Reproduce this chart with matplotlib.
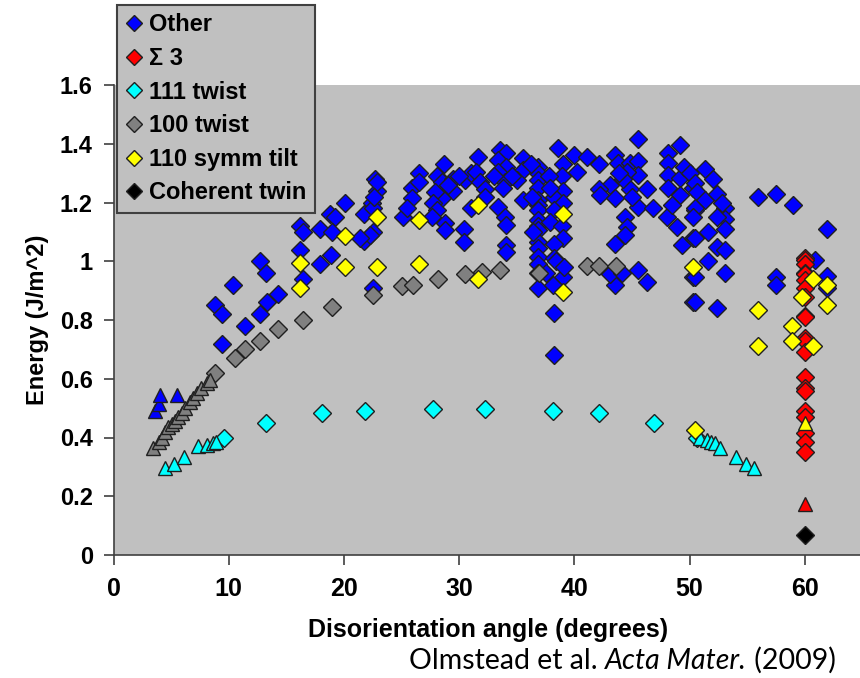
import matplotlib.pyplot as plt
from matplotlib.lines import Line2D

# ── data (angle in degrees, energy in J/m^2) ─────────────────────────────────
other_x = [8.8, 9.4, 9.4, 10.4, 11.4, 12.7, 13.2, 12.7, 13.3, 14.3, 16.2, 16.4, 16.2, 16.4,
           17.9, 17.9, 18.8, 19.2, 19.0, 18.9, 20.1, 21.7, 21.7, 22.5, 22.7, 22.9, 22.4, 22.5,
           22.5, 22.9, 22.6, 22.3, 21.4,
           26.5, 25.9, 25.9, 25.1, 26.5, 25.5,
           28.7, 28.1, 28.5, 29.5, 29.5, 28.5, 27.9, 27.7, 28.1, 27.6, 28.8, 28.8, 30.4, 30.4,
           30.5, 31.0, 31.6, 31.5, 31.8, 32.2, 32.2, 31.0, 29.0, 30.0,
           33.5, 34.1, 33.4, 34.1, 33.4, 34.0, 33.8, 33.4, 34.0, 34.1, 34.1, 34.1, 35.5, 35.5,
           35.0, 35.5, 33.0, 34.6,
           36.8, 36.8, 36.8, 36.8, 36.8, 36.8, 36.8, 36.8, 36.8, 36.8, 36.8, 36.8, 36.8, 36.8,
           36.8, 36.8, 36.2, 36.3, 36.4,
           38.6, 39.0, 38.9, 39.0, 38.2, 39.0, 38.2, 37.9, 38.9, 39.0, 38.2, 38.2, 39.0, 38.1,
           38.2, 38.2, 37.8, 37.9, 38.4, 39.1, 37.5,
           40.0, 40.2, 41.1, 42.1,
           43.5, 43.8, 44.8, 45.5, 45.5, 44.6, 43.1, 42.1, 42.2, 43.5, 44.8, 46.3, 45.5, 46.8,
           44.4, 44.6, 44.4, 43.5, 45.5, 46.3, 43.5, 43.1, 44.1, 45.5, 44.2, 45.0, 43.9,
           48.1, 49.2, 48.1, 48.1, 49.2, 48.1, 49.2, 48.0, 48.9, 49.3, 50.3, 50.5, 50.3, 50.3,
           50.3, 48.5, 49.5, 50.0,
           51.3, 50.5, 50.6, 51.3, 50.5, 50.3, 52.4, 53.1, 53.1, 53.1, 52.4, 51.6, 50.5, 52.4,
           51.6, 53.1, 53.1, 50.5, 50.5, 52.4, 52.0, 52.8,
           55.9, 57.5, 59.0, 61.9, 57.5, 57.5, 60.9, 61.9, 61.9]
other_y = [0.85, 0.82, 0.72, 0.92, 0.78, 1.00, 0.96, 0.82, 0.86, 0.89, 1.12, 1.10, 1.04, 0.94,
           1.11, 0.99, 1.16, 1.15, 1.10, 1.02, 1.20, 1.16, 1.07, 1.10, 1.28, 1.24, 1.20, 1.18,
           0.91, 1.27, 1.22, 1.09, 1.08,
           1.30, 1.25, 1.215, 1.15, 1.27, 1.18,
           1.33, 1.29, 1.27, 1.28, 1.24, 1.215, 1.235, 1.20, 1.175, 1.15, 1.13, 1.105, 1.11, 1.065,
           1.275, 1.30, 1.355, 1.305, 1.27, 1.245, 1.22, 1.18, 1.26, 1.29,
           1.38, 1.37, 1.345, 1.32, 1.305, 1.27, 1.25, 1.185, 1.15, 1.125, 1.055, 1.03, 1.35, 1.31,
           1.275, 1.21, 1.29, 1.29,
           1.32, 1.30, 1.275, 1.25, 1.21, 1.19, 1.175, 1.14, 1.12, 1.105, 1.065, 1.045, 1.015, 0.99,
           0.96, 0.91, 1.33, 1.22, 1.10,
           1.385, 1.33, 1.29, 1.24, 1.22, 1.20, 1.175, 1.135, 1.12, 1.08, 1.06, 1.01, 0.945, 0.92,
           0.825, 0.68, 1.29, 1.25, 1.00, 0.98, 0.96,
           1.36, 1.305, 1.355, 1.33,
           1.36, 1.335, 1.335, 1.34, 1.295, 1.305, 1.26, 1.245, 1.225, 1.215, 1.245, 1.245, 1.185, 1.18,
           1.15, 1.115, 1.09, 1.06, 0.97, 0.93, 0.92, 0.955, 0.96, 1.415, 1.28, 1.22, 1.30,
           1.37, 1.395, 1.335, 1.295, 1.285, 1.25, 1.225, 1.15, 1.115, 1.055, 1.25, 1.175, 1.08, 0.945,
           0.86, 1.19, 1.32, 1.30,
           1.315, 1.265, 1.235, 1.21, 1.18, 1.15, 1.23, 1.18, 1.145, 1.11, 1.15, 1.10, 1.08, 1.05,
           1.00, 1.04, 0.96, 0.945, 0.86, 0.84, 1.28, 1.20,
           1.22, 1.23, 1.19, 1.11, 0.945, 0.92, 1.005, 0.95, 0.91]
other_tri_x = [3.6, 3.9, 4.0, 5.5]
other_tri_y = [0.49, 0.515, 0.545, 0.545]

sigma3_x = [60.0] * 21
sigma3_y = [1.01, 1.005, 0.99, 0.96, 0.955, 0.935, 0.91, 0.88, 0.815, 0.81, 0.74, 0.73,
            0.69, 0.605, 0.57, 0.56, 0.49, 0.47, 0.415, 0.385, 0.35]
sigma3_tri_x = [60.0]
sigma3_tri_y = [0.175]

twist111_x = [9.6, 13.2, 18.1, 21.8, 27.7, 32.2, 38.1, 42.1, 46.9, 50.6]
twist111_y = [0.40, 0.45, 0.485, 0.49, 0.497, 0.497, 0.49, 0.483, 0.45, 0.40]
twist111_tri_x = [4.5, 5.2, 6.1, 7.3, 8.1, 8.6, 8.9,
                  50.9, 51.5, 51.9, 52.2, 52.6, 54.0, 54.9, 55.6]
twist111_tri_y = [0.295, 0.31, 0.335, 0.37, 0.375, 0.38, 0.385,
                  0.40, 0.39, 0.385, 0.38, 0.365, 0.335, 0.31, 0.295]

twist100_x = [8.8, 10.5, 11.4, 12.7, 14.3, 16.4, 19.0, 22.5, 25.0, 26.0, 28.2, 30.5,
              32.0, 33.5, 36.9, 41.1, 42.1, 43.6]
twist100_y = [0.62, 0.67, 0.70, 0.73, 0.77, 0.80, 0.845, 0.885, 0.915, 0.92, 0.94, 0.955,
              0.965, 0.97, 0.96, 0.985, 0.985, 0.985]
twist100_tri_x = [3.4, 3.9, 4.2, 4.5, 4.7, 5.1, 5.3, 5.6, 5.9, 6.2, 6.6, 6.9, 7.2, 7.6, 8.1, 8.4]
twist100_tri_y = [0.365, 0.385, 0.40, 0.42, 0.435, 0.445, 0.455, 0.47, 0.485, 0.50, 0.52,
                  0.535, 0.55, 0.57, 0.585, 0.595]

tilt110_x = [16.2, 16.2, 20.1, 20.1, 22.9, 22.9, 26.5, 26.5, 31.6, 31.6, 39.0, 39.0, 50.3,
             50.5, 55.9, 55.9, 60.7, 61.9, 59.8, 61.9, 58.9, 58.9, 60.7]
tilt110_y = [0.995, 0.91, 1.085, 0.98, 1.15, 0.98, 1.14, 0.99, 1.19, 0.94, 1.16, 0.895, 0.98,
             0.425, 0.835, 0.71, 0.94, 0.92, 0.88, 0.85, 0.78, 0.73, 0.71]
tilt110_tri_x = [60.0]
tilt110_tri_y = [0.45]

twin_x = [60.0]
twin_y = [0.068]

LABELS = ["Other", "Σ 3", "111 twist", "100 twist", "110 symm tilt", "Coherent twin"]
COLORS = ["#0000ff", "#ff0000", "#00ffff", "#808080", "#ffff00", "#000000"]
EDGE = "#202020"
BG = "#c0c0c0"

# ── figure ───────────────────────────────────────────────────────────────────
fig = plt.figure(figsize=(8.6, 6.78), dpi=100)
ax = fig.add_axes([113.6 / 860, 123 / 678, 748.8 / 860, 470 / 678])
ax.set_facecolor(BG)

series = [
    (other_x, other_y, other_tri_x, other_tri_y),
    (sigma3_x, sigma3_y, sigma3_tri_x, sigma3_tri_y),
    (twist111_x, twist111_y, twist111_tri_x, twist111_tri_y),
    (twist100_x, twist100_y, twist100_tri_x, twist100_tri_y),
    (tilt110_x, tilt110_y, tilt110_tri_x, tilt110_tri_y),
    (twin_x, twin_y, [], []),
]
for (xd, yd, xt, yt), color in zip(series, COLORS):
    ax.plot(xd, yd, ls="none", marker="D", ms=8.8, mfc=color, mec=EDGE, mew=1.0)
    if xt:
        ax.plot(xt, yt, ls="none", marker="^", ms=10, mfc=color, mec=EDGE, mew=1.0)

ax.set_xlim(0, 65)
ax.set_ylim(0, 1.6)
ax.set_xticks(range(0, 61, 10))
ax.set_yticks([0, 0.2, 0.4, 0.6, 0.8, 1.0, 1.2, 1.4, 1.6])
ax.set_yticklabels(["0", "0.2", "0.4", "0.6", "0.8", "1", "1.2", "1.4", "1.6"])

for side in ("top", "right"):
    ax.spines[side].set_visible(False)
for side in ("left", "bottom"):
    ax.spines[side].set_color("#404040")
    ax.spines[side].set_linewidth(1.2)
ax.tick_params(direction="out", length=7, width=1.2, color="#404040")
ax.tick_params(axis="y", pad=8)
ax.tick_params(axis="x", pad=9)

tick_font = {"family": ["Liberation Sans", "DejaVu Sans"], "weight": "bold", "size": 17}
narrow_font = {"family": ["Liberation Sans Narrow", "Liberation Sans", "DejaVu Sans"],
               "weight": "bold", "size": 18}
for lbl in ax.get_yticklabels():
    lbl.set_fontproperties(tick_font)
for lbl in ax.get_xticklabels():
    lbl.set_fontproperties(narrow_font)

ax.set_ylabel("Energy (J/m^2)", fontdict=tick_font, labelpad=8)
ax.set_xlabel("Disorientation angle (degrees)", fontdict=narrow_font, labelpad=12)

# legend shows diamonds only
handles = [Line2D([], [], ls="none", marker="D", ms=8, mfc=c, mec=EDGE, mew=1.0)
           for c in COLORS]
leg = fig.legend(handles, LABELS, loc="upper left",
                 bbox_to_anchor=(117 / 860, 1 - 5 / 678), borderaxespad=0,
                 prop={"family": ["Liberation Sans", "DejaVu Sans"], "weight": "bold",
                       "size": 17},
                 frameon=True, fancybox=False, facecolor=BG, edgecolor="#404040",
                 framealpha=1, handlelength=0.7, handletextpad=0.3,
                 labelspacing=0.45, borderpad=0.35)
leg.get_frame().set_linewidth(1.5)

# citation line with an italic journal name
cite = {"family": ["Lato", "DejaVu Sans"], "size": 20.5}
t1 = fig.text(409 / 860, 9 / 678, "Olmstead et al. ", ha="left", va="baseline", **cite)
t2 = ax.annotate("Acta Mater.", xy=(1, 0), xycoords=t1, ha="left", va="bottom",
                 style="italic", annotation_clip=False, **cite)
ax.annotate(" (2009)", xy=(1, 0), xycoords=t2, ha="left", va="bottom",
            annotation_clip=False, **cite)

fig.savefig("out.png", dpi=100)
